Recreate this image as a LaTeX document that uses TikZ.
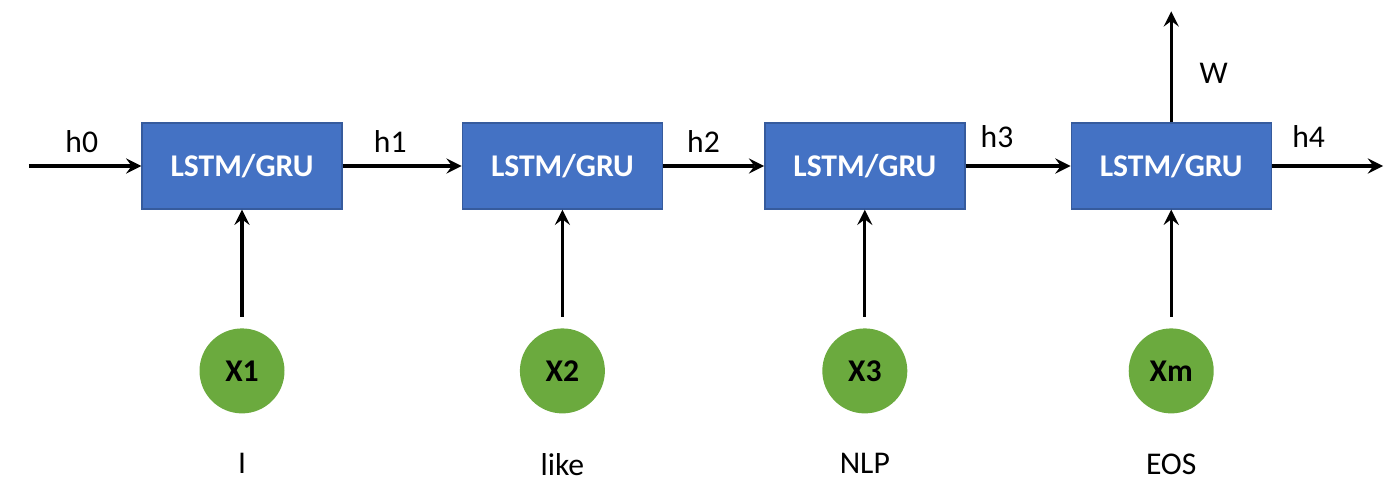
\documentclass[tikz,border=0pt]{standalone}
\usepackage{fontspec}
\setmainfont{Carlito}
\usetikzlibrary{positioning}

\definecolor{cellblue}{HTML}{4472C4}
\definecolor{wordgreen}{HTML}{6BAA3E}

\begin{document}
\begin{tikzpicture}

		\tikzstyle{cell}=[rectangle,
			fill=cellblue,draw=cellblue!80!black,thin,
			minimum height=0.86cm,minimum width=2cm,inner sep=0mm,
			text=white,font=\fontsize{9}{10}\selectfont\bfseries]
		\tikzstyle{word}=[circle,fill=wordgreen,
			minimum size=0.85cm,inner sep=0mm,
			font=\fontsize{9}{10}\selectfont\bfseries]
		\tikzstyle{lbl}=[font=\fontsize{9}{10}\selectfont]
		\tikzstyle{flow}=[->,>=stealth,line width=0.9pt]

		\useasboundingbox (0,0) rectangle (14,4.96);

		\node[cell] at (2.42,3.30)	(lstm1)	{LSTM/GRU};
		\node[cell,right=1.19cm of lstm1]	(lstm2)	{LSTM/GRU};
		\node[cell,right=1.01cm of lstm2]	(lstm3)	{LSTM/GRU};
		\node[cell,right=1.05cm of lstm3]	(lstm4)	{LSTM/GRU};

		\node[word,below=1.18cm of lstm1]	(x1)	{X1};
		\node[word,below=1.18cm of lstm2]	(x2)	{X2};
		\node[word,below=1.18cm of lstm3]	(x3)	{X3};
		\node[word,below=1.18cm of lstm4]	(xm)	{Xm};

		\node[lbl,below=0.27cm of x1]	(w1)	{I};
		\node[lbl,below=0.27cm of x2]	(w2)	{like};
		\node[lbl,below=0.27cm of x3]	(w3)	{NLP};
		\node[lbl,below=0.27cm of xm]	(w4)	{EOS};

		\coordinate (start) at (0.29,3.30);
		\coordinate (end) at (13.83,3.30);
		\coordinate[above=1.11cm of lstm4.north] (out);

		\draw[flow] (start) to node[lbl,above,pos=0.47]{h0} (lstm1);
		\draw[flow] (lstm1) to node[lbl,above,pos=0.4]{h1} (lstm2);
		\draw[flow] (lstm2) to node[lbl,above,pos=0.4]{h2} (lstm3);
		\draw[flow] (lstm3) to node[lbl,above,pos=0.3,yshift=0.5mm]{h3} (lstm4);
		\draw[flow] (lstm4) to node[lbl,above,pos=0.33,yshift=0.5mm]{h4} (end);
		\draw[flow] (lstm4) to node[lbl,right,pos=0.44,xshift=1.5mm]{W} (out);

		\draw[flow,shorten <=1.1mm] (x1) to (lstm1);
		\draw[flow,shorten <=1.1mm] (x2) to (lstm2);
		\draw[flow,shorten <=1.1mm] (x3) to (lstm3);
		\draw[flow,shorten <=1.1mm] (xm) to (lstm4);

	\end{tikzpicture}
\end{document}
